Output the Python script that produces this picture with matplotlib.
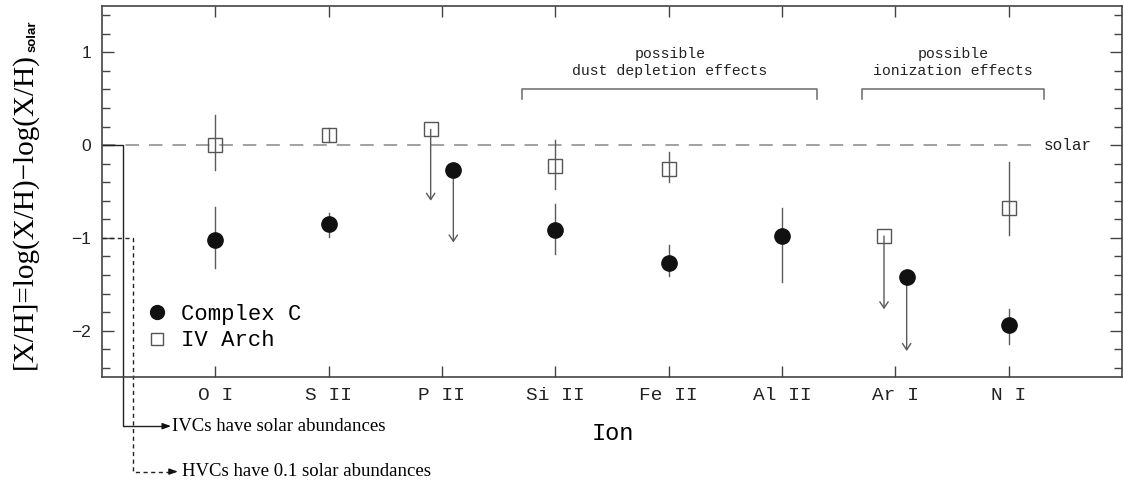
import numpy as np
import matplotlib
matplotlib.use("Agg")
import matplotlib.pyplot as plt
from matplotlib.lines import Line2D
from matplotlib.ticker import MultipleLocator

# ---- data -------------------------------------------------------------
ions = ["O I", "S II", "P II", "Si II", "Fe II", "Al II", "Ar I", "N I"]

# Complex C abundances [X/H] with asymmetric errors (upper limits: err_lo = arrow length)
complex_c = [-1.02, -0.85, -0.27, -0.91, -1.27, -0.98, -1.42, -1.94]
complex_c_err_hi = [0.35, 0.12, 0.00, 0.28, 0.19, 0.30, 0.00, 0.17]
complex_c_err_lo = [0.31, 0.14, 0.78, 0.26, 0.14, 0.50, 0.80, 0.20]
complex_c_limit = [False, False, True, False, False, False, True, False]

# IV Arch abundances (no Al II measurement)
iv_arch = [0.00, 0.11, 0.17, -0.22, -0.26, np.nan, -0.98, -0.68]
iv_arch_err_hi = [0.33, 0.08, 0.00, 0.28, 0.19, 0.00, 0.00, 0.50]
iv_arch_err_lo = [0.27, 0.08, 0.77, 0.25, 0.14, 0.00, 0.79, 0.29]
iv_arch_limit = [False, False, True, False, False, False, True, False]

# ion groups marked with brackets (first ion, last ion, caption)
groups = [("Si II", "Al II", "possible\ndust depletion effects"),
          ("Ar I", "N I", "possible\nionization effects")]

solar_level = 0.0
hvc_level = -1.0

# ---- style -----------------------------------------------------------
MONO = "Liberation Mono"
SERIF = "Liberation Serif"
SPINE = "#444444"
BAR = "#5a5a5a"
W, H = 1123, 483

fig = plt.figure(figsize=(W / 100, H / 100), dpi=100)
ax = fig.add_axes([102 / W, 1 - 377 / H, 1020 / W, 371 / H])

x = np.arange(1, len(ions) + 1)
limit_offset = 0.1


def draw_series(vals, hi, lo, lim, marker, face, size, offset_sign):
    for xi, v, h, l, is_lim in zip(x, vals, hi, lo, lim):
        if np.isnan(v):
            continue
        if is_lim:
            xp = xi + offset_sign * limit_offset
            ax.annotate("", xy=(xp, v - l), xytext=(xp, v),
                        arrowprops=dict(arrowstyle="->,head_length=0.45,head_width=0.3",
                                        color=BAR, lw=1.0, shrinkA=0, shrinkB=0),
                        zorder=2)
        else:
            xp = xi
            ax.plot([xp, xp], [v - l, v + h], color=BAR, lw=1.0, zorder=2)
        ax.plot(xp, v, marker=marker, ms=size, mfc=face,
                mec="#111111" if face != "none" else "#555555",
                mew=1.0, ls="none", zorder=3)


draw_series(iv_arch, iv_arch_err_hi, iv_arch_err_lo, iv_arch_limit,
            "s", "none", 10.0, -1)
draw_series(complex_c, complex_c_err_hi, complex_c_err_lo, complex_c_limit,
            "o", "#111111", 11.0, +1)

# solar reference line
ax.plot([0, 8.22], [solar_level, solar_level], color="#9a9a9a", lw=1.3,
        dashes=(7.5, 5.5), zorder=1)
ax.text(8.31, solar_level, "solar", family=MONO, fontsize=11.5,
        ha="left", va="center", color="#222222")

# group brackets
for first, last, caption in groups:
    x0 = ions.index(first) + 1 - 0.29
    x1 = ions.index(last) + 1 + 0.31
    ax.plot([x0, x0, x1, x1], [0.50, 0.60, 0.60, 0.50], color="#6a6a6a", lw=1.1)
    ax.text((x0 + x1) / 2, 0.89, caption, family=MONO, fontsize=10.7,
            ha="center", va="center", linespacing=1.25, color="#222222")

# axes, ticks
ax.set_xlim(0, 9)
ax.set_ylim(-2.5, 1.5)
ax.set_xticks(x)
ax.set_xticklabels(ions, family=MONO, fontsize=14)
ax.set_yticks([-2, -1, 0, 1])
ax.set_yticklabels(["\u22122", "\u22121", "0", "1"], family="Liberation Sans", fontsize=12.5)
ax.yaxis.set_minor_locator(MultipleLocator(0.2))
ax.tick_params(axis="both", which="both", direction="in", colors=SPINE,
               top=True, right=True, labelcolor="#222222")
ax.tick_params(axis="y", which="major", length=8.5, width=1.0, pad=8)
ax.tick_params(axis="y", which="minor", length=5.5, width=1.0)
ax.tick_params(axis="x", which="major", length=8, width=1.0, pad=7)
for s in ax.spines.values():
    s.set_color(SPINE)
    s.set_linewidth(1.2)

# legend
handles = [Line2D([], [], marker="o", ls="none", ms=10, mfc="#111111", mec="#111111"),
           Line2D([], [], marker="s", ls="none", ms=9, mfc="none", mec="#555555", mew=1.0)]
ax.legend(handles, ["Complex C", "IV Arch"], loc="upper left",
          bbox_to_anchor=(0.043, 0.197), frameon=False, borderpad=0, borderaxespad=0,
          handlelength=1.0, handletextpad=0.6, labelspacing=0.25,
          prop=dict(family=MONO, size=16))

# y-axis title: main part plus a small sans "solar" subscript
ylab = fig.text(32 / W, 1 - 369 / H, "[X/H]=log(X/H)\u2212log(X/H)",
                family=SERIF, fontsize=21, rotation=90, rotation_mode="anchor",
                ha="left", va="baseline")
fig.canvas.draw()
ylab_top = ylab.get_window_extent().y1
fig.text(35.5 / W, (ylab_top + 1) / H, "solar", family="Liberation Sans",
         fontweight="bold", fontsize=9.5, rotation=90, rotation_mode="anchor",
         ha="left", va="baseline")

fig.text(613 / W, 1 - 433 / H, "Ion", family=MONO, fontsize=17,
         ha="center", va="center")

# guide lines out of the frame to the explanatory notes
ax.plot([0, 0.185, 0.185, 0.56], [solar_level, solar_level, -3.03, -3.03],
        color="#222222", lw=1.0, clip_on=False)
ax.annotate("", xy=(0.61, -3.03), xytext=(0.55, -3.03), annotation_clip=False,
            arrowprops=dict(arrowstyle="-|>,head_length=0.5,head_width=0.18",
                            color="#111111", lw=1.0, shrinkA=0, shrinkB=0))
ax.text(0.62, -3.03, "IVCs have solar abundances", family=SERIF, fontsize=13.5,
        ha="left", va="center", clip_on=False)

ax.plot([0, 0.27, 0.27, 0.62], [hvc_level, hvc_level, -3.52, -3.52],
        color="#222222", lw=1.0, dashes=(3, 2.5), clip_on=False)
ax.annotate("", xy=(0.67, -3.52), xytext=(0.61, -3.52), annotation_clip=False,
            arrowprops=dict(arrowstyle="-|>,head_length=0.5,head_width=0.18",
                            color="#111111", lw=1.0, shrinkA=0, shrinkB=0))
ax.text(0.705, -3.52, "HVCs have 0.1 solar abundances", family=SERIF, fontsize=13.5,
        ha="left", va="center", clip_on=False)

fig.savefig("out.png", dpi=100, facecolor="white")
